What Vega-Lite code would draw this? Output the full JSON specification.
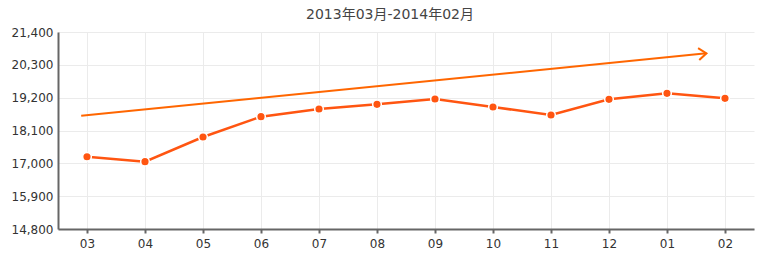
{
  "$schema": "https://vega.github.io/schema/vega-lite/v6.json",
  "autosize": "none",
  "width": 696,
  "height": 197,
  "padding": {"left": 58, "top": 32, "right": 7, "bottom": 26},
  "background": "white",
  "config": {
    "view": {"stroke": null},
    "font": "DejaVu Sans, Noto Sans CJK SC"
  },
  "title": {
    "text": "2013年03月-2014年02月",
    "fontSize": 14,
    "fontWeight": "normal",
    "color": "#444",
    "font": "DejaVu Sans, Noto Sans CJK SC",
    "offset": 4,
    "dx": -16
  },
  "datasets": {
    "price": [
      {"i": 0, "month": "03", "price": 17222},
      {"i": 1, "month": "04", "price": 17055},
      {"i": 2, "month": "05", "price": 17882},
      {"i": 3, "month": "06", "price": 18563},
      {"i": 4, "month": "07", "price": 18820},
      {"i": 5, "month": "08", "price": 18977},
      {"i": 6, "month": "09", "price": 19155},
      {"i": 7, "month": "10", "price": 18887},
      {"i": 8, "month": "11", "price": 18619},
      {"i": 9, "month": "12", "price": 19145},
      {"i": 10, "month": "01", "price": 19346},
      {"i": 11, "month": "02", "price": 19178}
    ],
    "trend": [
      {"i": -0.1, "price": 18596, "end": false},
      {"i": 10.68, "price": 20686, "end": true}
    ]
  },
  "layer": [
    {
      "data": {"name": "price"},
      "mark": {"type": "line", "color": "#FF5511", "strokeWidth": 2.5},
      "encoding": {
        "x": {
          "field": "i",
          "type": "quantitative",
          "scale": {"domain": [-0.5, 11.5], "nice": false, "zero": false},
          "axis": {
            "title": null,
            "values": [0, 1, 2, 3, 4, 5, 6, 7, 8, 9, 10, 11],
            "tickCount": 12,
            "labelExpr": "['03','04','05','06','07','08','09','10','11','12','01','02'][datum.value]",
            "grid": true,
            "gridColor": "#ebebeb",
            "gridWidth": 1,
            "domainColor": "#666",
            "domainWidth": 2,
            "tickColor": "#666",
            "tickWidth": 2,
            "tickSize": 4,
            "labelFontSize": 12,
            "labelColor": "#333",
            "labelPadding": 5,
            "labelFlush": false,
            "labelOverlap": false
          }
        },
        "y": {
          "field": "price",
          "type": "quantitative",
          "scale": {"domain": [14800, 21400], "nice": false, "zero": false},
          "axis": {
            "title": null,
            "values": [14800, 15900, 17000, 18100, 19200, 20300, 21400],
            "tickCount": 7,
            "format": ",d",
            "grid": true,
            "gridColor": "#ebebeb",
            "gridWidth": 1,
            "domainColor": "#666",
            "domainWidth": 2,
            "ticks": false,
            "labelFontSize": 12,
            "labelColor": "#333",
            "labelPadding": 5,
            "labelOverlap": false
          }
        }
      }
    },
    {
      "data": {"name": "price"},
      "mark": {"type": "point", "filled": true, "color": "#FF5511", "stroke": "white", "strokeWidth": 1.5, "size": 75, "opacity": 1},
      "encoding": {
        "x": {"field": "i", "type": "quantitative"},
        "y": {"field": "price", "type": "quantitative"}
      }
    },
    {
      "data": {"name": "trend"},
      "mark": {"type": "line", "color": "#FF6600", "strokeWidth": 2},
      "encoding": {
        "x": {"field": "i", "type": "quantitative"},
        "y": {"field": "price", "type": "quantitative"}
      }
    },
    {
      "data": {"name": "trend"},
      "transform": [{"filter": "datum.end"}],
      "mark": {"type": "point", "shape": "M-1.3,-1L0,0L-1.3,1", "filled": false, "stroke": "#FF6600", "strokeWidth": 2, "size": 144, "angle": -5.7, "opacity": 1},
      "encoding": {
        "x": {"field": "i", "type": "quantitative"},
        "y": {"field": "price", "type": "quantitative"}
      }
    }
  ]
}
